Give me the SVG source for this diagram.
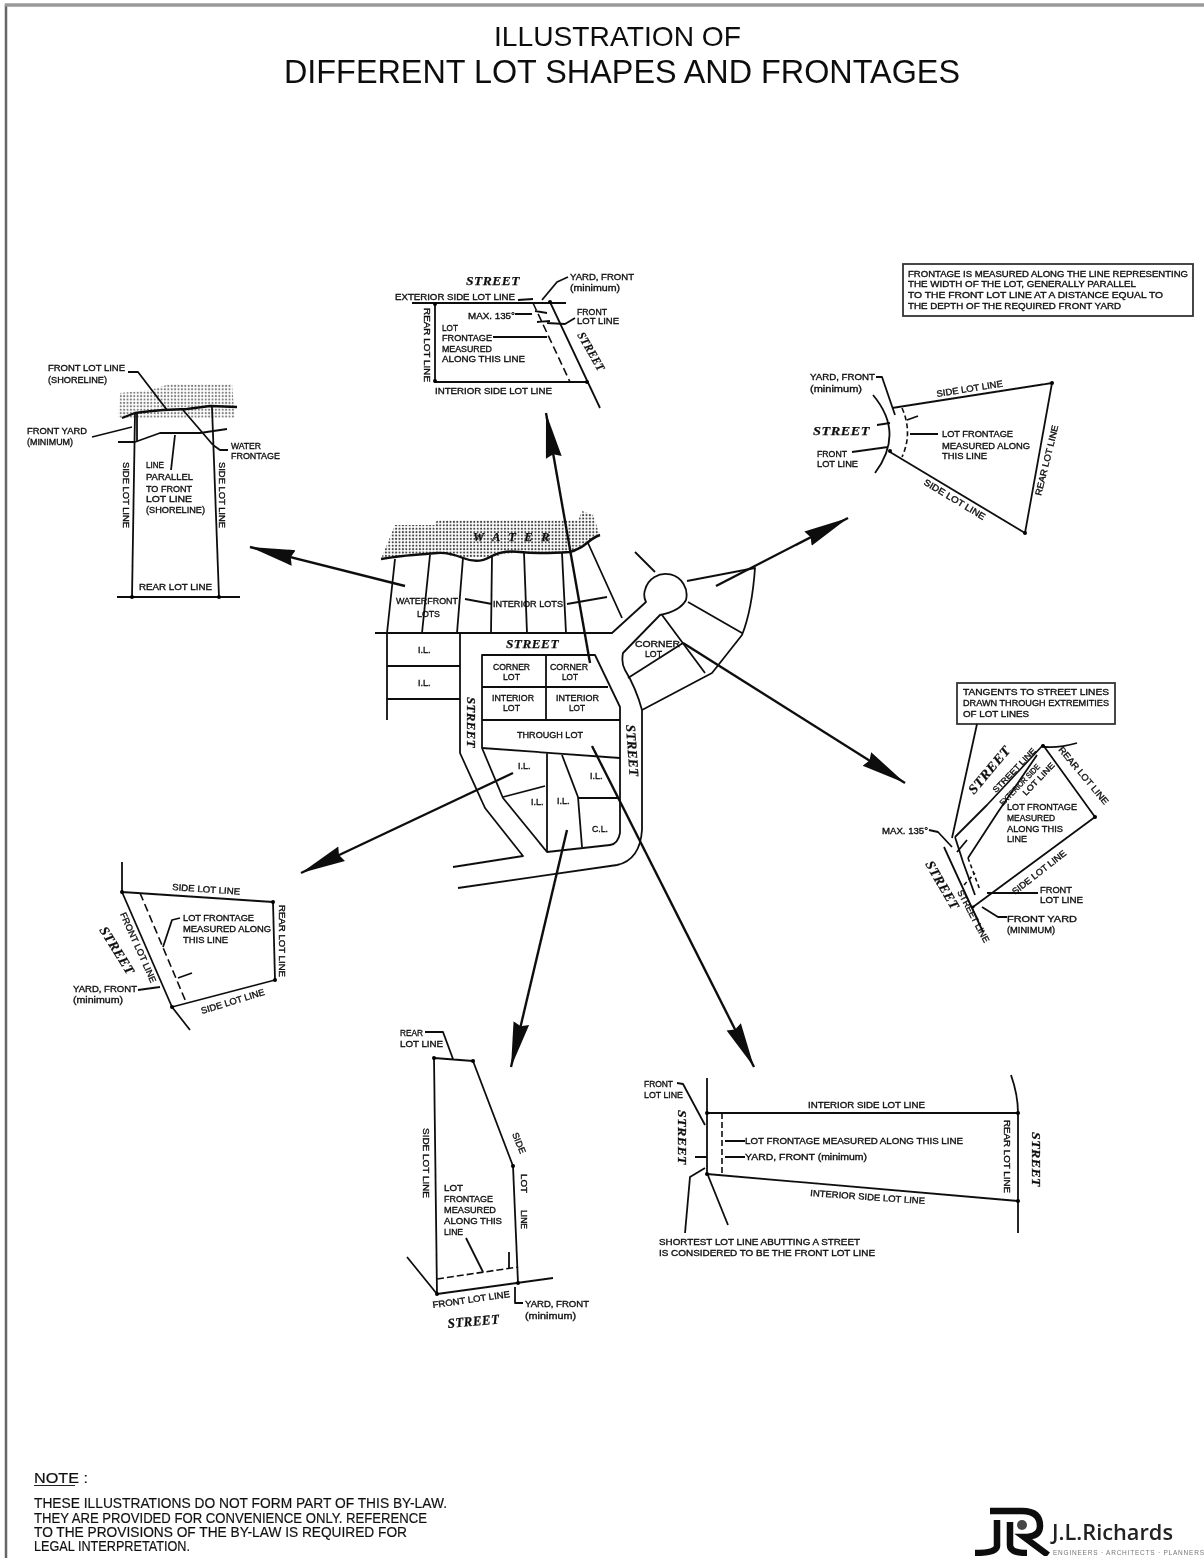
<svg xmlns="http://www.w3.org/2000/svg" width="1204" height="1558" viewBox="0 0 1204 1558">
<style>
text{font-family:"Liberation Sans",Arial,sans-serif;fill:#111}
.t{font-size:9px;stroke:#111;stroke-width:.35}
.s{font-family:"Liberation Serif","Times New Roman",serif;font-style:italic;font-weight:bold;font-size:13.5px;letter-spacing:.5px;stroke:#111;stroke-width:.25}
.h{font-size:28px}
.hb{font-size:33px}
.n{font-size:14px;stroke:#222;stroke-width:.2}
.l{fill:none;stroke:#111;stroke-width:1.8;stroke-linejoin:round}
.d{fill:none;stroke:#111;stroke-width:1.6;stroke-dasharray:8 4}
.b{fill:#fff;stroke:#333;stroke-width:1.8}
.a{fill:none;stroke:#111;stroke-width:2.4}
</style>
<defs>
<marker id="ah" markerUnits="userSpaceOnUse" markerWidth="46" markerHeight="18" viewBox="0 0 46 18" refX="45" refY="9" orient="auto"><path d="M0 1 L45 9 L0 17 L3 9Z" fill="#111"/></marker>
<pattern id="dots" width="3.4" height="3.4" patternUnits="userSpaceOnUse"><circle cx="1.7" cy="1.7" r="1.05" fill="#444"/></pattern>
<filter id="soft" x="0" y="0" width="1" height="1" filterUnits="objectBoundingBox"><feGaussianBlur stdDeviation="0.55"/></filter>
</defs>
<rect width="1204" height="1558" fill="#fff"/>
<path id="page-border" d="M6 1558V5" fill="none" stroke="#666" stroke-width="2.5"/>
<path id="page-border-top" d="M4.8 5H1204" fill="none" stroke="#999" stroke-width="3.5"/>
<g filter="url(#soft)">
<g id="title">
<text class="h" x="494" y="46" textLength="247" lengthAdjust="spacingAndGlyphs">ILLUSTRATION OF</text>
<text class="hb" x="284" y="83" textLength="676" lengthAdjust="spacingAndGlyphs">DIFFERENT LOT SHAPES AND FRONTAGES</text>
</g>

<g id="central-plan">
<path d="M381 559V559L395 525H435L437 520H510L578 520L582 511L593 515L600 535L587 543L570 552L520 552L490 557L463 558L437 553L413 555Z" fill="url(#dots)"/>
<path class="l" style="stroke-width:2.4" d="M381 559Q400 556 413 555T437 553T463 558T490 557T520 552T570 552Q580 549 587 543T600 535"/>
<path class="l" d="M395 559L387 633M430 555L422 633M463 558L457 633M492 557L491 633M524 553L527 633M562 553L566 633M588 543L622 618"/>
<path class="l" d="M375 633H612L646 602Q643 596 645 590A21 21 0 1 1 686 600Q680 611 660 615L623 653Q621 663 625 670Q636 688 642 710V830Q640 860 617 865L458 888"/>
<path class="l" d="M460 633V753L485 808L523 856L453 867"/>
<path class="l" d="M387 633V720M387 666H460M387 699H460"/>
<path class="l" d="M482 655H595L620 707V833Q618 844 610 845L547 852L503 798L482 748Z"/>
<path class="l" d="M546 655V720M482 687H608M482 720H620M482 748L620 758M547 753V852M503 797L545 786M562 755L578 797L582 847M578 798H618"/>
<path class="l" d="M635 552L655 572M687 581L755 568Q752 610 742 635L712 673L642 710M688 602L742 633M662 615L705 673M628 678L683 643"/>
<text class="s" x="473" y="541" textLength="77" style="font-size:12.5px">W A T E R</text>
<text class="t" x="396" y="604" textLength="62" lengthAdjust="spacingAndGlyphs">WATERFRONT</text>
<text class="t" x="417" y="617" textLength="23" lengthAdjust="spacingAndGlyphs">LOTS</text>
<text class="t" x="493" y="607" textLength="70" lengthAdjust="spacingAndGlyphs">INTERIOR LOTS</text>
<path class="l" d="M465 599L492 604M567 604L607 597"/>
<text class="s" x="506" y="648" textLength="53" lengthAdjust="spacingAndGlyphs">STREET</text>
<text class="t" x="418" y="653">I.L.</text>
<text class="t" x="418" y="686">I.L.</text>
<text class="s" x="467" y="697" transform="rotate(90 467 697)" textLength="51" lengthAdjust="spacingAndGlyphs">STREET</text>
<text class="s" x="626" y="725" transform="rotate(86 626 725)" textLength="52" lengthAdjust="spacingAndGlyphs">STREET</text>
<text class="t" x="493" y="670" textLength="37" lengthAdjust="spacingAndGlyphs">CORNER</text>
<text class="t" x="503" y="680" textLength="17" lengthAdjust="spacingAndGlyphs">LOT</text>
<text class="t" x="550" y="670" textLength="38" lengthAdjust="spacingAndGlyphs">CORNER</text>
<text class="t" x="562" y="680" textLength="16" lengthAdjust="spacingAndGlyphs">LOT</text>
<text class="t" x="492" y="701" textLength="42" lengthAdjust="spacingAndGlyphs">INTERIOR</text>
<text class="t" x="503" y="711" textLength="17" lengthAdjust="spacingAndGlyphs">LOT</text>
<text class="t" x="556" y="701" textLength="43" lengthAdjust="spacingAndGlyphs">INTERIOR</text>
<text class="t" x="569" y="711" textLength="16" lengthAdjust="spacingAndGlyphs">LOT</text>
<text class="t" x="517" y="738" textLength="66" lengthAdjust="spacingAndGlyphs">THROUGH LOT</text>
<text class="t" x="518" y="769">I.L.</text>
<text class="t" x="590" y="779">I.L.</text>
<text class="t" x="531" y="805">I.L.</text>
<text class="t" x="557" y="804">I.L.</text>
<text class="t" x="592" y="832" textLength="16" lengthAdjust="spacingAndGlyphs">C.L.</text>
<text class="t" x="635" y="647" textLength="45" lengthAdjust="spacingAndGlyphs">CORNER</text>
<text class="t" x="645" y="657" textLength="17" lengthAdjust="spacingAndGlyphs">LOT</text>
</g>

<g id="lot-top">
<text class="s" x="466" y="285" textLength="54" lengthAdjust="spacingAndGlyphs">STREET</text>
<text class="t" x="395" y="300" textLength="120" lengthAdjust="spacingAndGlyphs">EXTERIOR SIDE LOT LINE</text>
<path class="l" d="M412 303H566M435 303V382H587M550 302L600 408"/>
<path class="d" d="M533 303L570 382"/>
<path class="l" d="M515 314H532M493 337H547M518 300L533 299M535 311L547 313M542 300L557 282L568 277M547 323L565 324L575 318M537 322L550 321"/>
<circle cx="435" cy="304" r="2"/><circle cx="435" cy="381" r="2"/><circle cx="550" cy="302" r="2"/><circle cx="587" cy="382" r="2"/>
<text class="t" x="468" y="319" textLength="47" lengthAdjust="spacingAndGlyphs">MAX. 135°</text>
<text class="t" x="442" y="331" textLength="16" lengthAdjust="spacingAndGlyphs">LOT</text>
<text class="t" x="442" y="341" textLength="50" lengthAdjust="spacingAndGlyphs">FRONTAGE</text>
<text class="t" x="442" y="352" textLength="50" lengthAdjust="spacingAndGlyphs">MEASURED</text>
<text class="t" x="442" y="362" textLength="83" lengthAdjust="spacingAndGlyphs">ALONG THIS LINE</text>
<text class="t" x="424" y="308" transform="rotate(90 424 308)" textLength="74" lengthAdjust="spacingAndGlyphs">REAR LOT LINE</text>
<text class="t" x="435" y="394" textLength="117" lengthAdjust="spacingAndGlyphs">INTERIOR SIDE LOT LINE</text>
<text class="t" x="570" y="280" textLength="64" lengthAdjust="spacingAndGlyphs">YARD, FRONT</text>
<text class="t" x="570" y="291" textLength="50" lengthAdjust="spacingAndGlyphs">(minimum)</text>
<text class="t" x="577" y="315" textLength="30" lengthAdjust="spacingAndGlyphs">FRONT</text>
<text class="t" x="577" y="324" textLength="42" lengthAdjust="spacingAndGlyphs">LOT LINE</text>
<text class="s" x="577" y="335" transform="rotate(60 577 335)" textLength="43" lengthAdjust="spacingAndGlyphs" style="font-size:12px">STREET</text>
</g>

<g id="lot-shoreline">
<path d="M118 418L120 393L150 390L170 384H232L235 418Z" fill="url(#dots)" opacity=".7"/>
<path class="l" style="stroke-width:2.4" d="M122 418L135 413Q150 411 163 410L187 409L210 406L237 407"/>
<path class="l" d="M135 413L132 597M212 407L219 597M117 597H240M137 413V441M118 442H135L160 433H200L227 429M128 372H138L167 410M183 410L213 445L220 450H228M175 435L171 470M92 437L132 427"/>
<circle cx="132" cy="597" r="2"/><circle cx="219" cy="597" r="2"/>
<text class="t" x="48" y="371" textLength="77" lengthAdjust="spacingAndGlyphs">FRONT LOT LINE</text>
<text class="t" x="48" y="383" textLength="59" lengthAdjust="spacingAndGlyphs">(SHORELINE)</text>
<text class="t" x="27" y="434" textLength="60" lengthAdjust="spacingAndGlyphs">FRONT YARD</text>
<text class="t" x="27" y="445" textLength="46" lengthAdjust="spacingAndGlyphs">(MINIMUM)</text>
<text class="t" x="231" y="449" textLength="30" lengthAdjust="spacingAndGlyphs">WATER</text>
<text class="t" x="231" y="459" textLength="49" lengthAdjust="spacingAndGlyphs">FRONTAGE</text>
<text class="t" x="146" y="468" textLength="18" lengthAdjust="spacingAndGlyphs">LINE</text>
<text class="t" x="146" y="480" textLength="47" lengthAdjust="spacingAndGlyphs">PARALLEL</text>
<text class="t" x="146" y="492" textLength="46" lengthAdjust="spacingAndGlyphs">TO FRONT</text>
<text class="t" x="146" y="502" textLength="46" lengthAdjust="spacingAndGlyphs">LOT LINE</text>
<text class="t" x="146" y="513" textLength="59" lengthAdjust="spacingAndGlyphs">(SHORELINE)</text>
<text class="t" x="123" y="462" transform="rotate(90 123 462)" textLength="66" lengthAdjust="spacingAndGlyphs">SIDE LOT LINE</text>
<text class="t" x="219" y="462" transform="rotate(90 219 462)" textLength="66" lengthAdjust="spacingAndGlyphs">SIDE LOT LINE</text>
<text class="t" x="139" y="590" textLength="73" lengthAdjust="spacingAndGlyphs">REAR LOT LINE</text>
</g>

<g id="note-frontage">
<rect class="b" x="903" y="264" width="290" height="52"/>
<text class="t" x="908" y="277" textLength="280" lengthAdjust="spacingAndGlyphs">FRONTAGE IS MEASURED ALONG THE LINE REPRESENTING</text>
<text class="t" x="908" y="287" textLength="228" lengthAdjust="spacingAndGlyphs">THE WIDTH OF THE LOT, GENERALLY PARALLEL</text>
<text class="t" x="908" y="298" textLength="255" lengthAdjust="spacingAndGlyphs">TO THE FRONT LOT LINE AT A DISTANCE EQUAL TO</text>
<text class="t" x="908" y="309" textLength="213" lengthAdjust="spacingAndGlyphs">THE DEPTH OF THE REQUIRED FRONT YARD</text>
</g>

<g id="lot-wedge">
<path class="l" d="M873 395Q905 433 875 473M892 408L1052 383L1025 533L890 452M876 377H882L895 415M907 420L918 416M910 434H938M877 425L890 423M852 452L888 447"/>
<path class="d" style="stroke-dasharray:5 3" d="M902 408Q913 433 902 457"/>
<circle cx="1052" cy="383" r="2"/><circle cx="1025" cy="533" r="2"/><circle cx="890" cy="451" r="2"/>
<text class="t" x="810" y="380" textLength="65" lengthAdjust="spacingAndGlyphs">YARD, FRONT</text>
<text class="t" x="810" y="392" textLength="52" lengthAdjust="spacingAndGlyphs">(minimum)</text>
<text class="t" x="942" y="437" textLength="71" lengthAdjust="spacingAndGlyphs">LOT FRONTAGE</text>
<text class="t" x="942" y="449" textLength="88" lengthAdjust="spacingAndGlyphs">MEASURED ALONG</text>
<text class="t" x="942" y="459" textLength="45" lengthAdjust="spacingAndGlyphs">THIS LINE</text>
<text class="t" x="937" y="397" transform="rotate(-9 937 397)" textLength="67" lengthAdjust="spacingAndGlyphs">SIDE LOT LINE</text>
<text class="s" x="813" y="435" textLength="57" lengthAdjust="spacingAndGlyphs">STREET</text>
<text class="t" x="817" y="457" textLength="30" lengthAdjust="spacingAndGlyphs">FRONT</text>
<text class="t" x="817" y="467" textLength="41" lengthAdjust="spacingAndGlyphs">LOT LINE</text>
<text class="t" x="923" y="484" transform="rotate(31 923 484)" textLength="70" lengthAdjust="spacingAndGlyphs">SIDE LOT LINE</text>
<text class="t" x="1041" y="496" transform="rotate(-76 1041 496)" textLength="72" lengthAdjust="spacingAndGlyphs">REAR LOT LINE</text>
</g>

<g id="lot-tangents">
<rect class="b" x="957" y="683" width="158" height="41"/>
<text class="t" x="963" y="695" textLength="146" lengthAdjust="spacingAndGlyphs">TANGENTS TO STREET LINES</text>
<text class="t" x="963" y="706" textLength="146" lengthAdjust="spacingAndGlyphs">DRAWN THROUGH EXTREMITIES</text>
<text class="t" x="963" y="717" textLength="66" lengthAdjust="spacingAndGlyphs">OF LOT LINES</text>
<path class="l" d="M977 724L952 838M929 830L938 832L952 847M944 847L983 932M955 837L987 805L1043 745L1095 817L973 907M1045 747Q1060 748 1077 743M1037 755L998 812L968 858M955 837L963 862L975 895M987 893H1038M982 907L998 917H1007M957 852L967 840"/>
<path class="d" style="stroke-dasharray:4 3" d="M968 858L980 890M964 885L975 873"/>
<circle cx="1043" cy="746" r="2"/><circle cx="1095" cy="817" r="2"/><circle cx="973" cy="907" r="1.5"/>
<text class="t" x="882" y="834" textLength="46" lengthAdjust="spacingAndGlyphs">MAX. 135°</text>
<text class="s" x="974" y="795" transform="rotate(-50 974 795)" textLength="58" lengthAdjust="spacingAndGlyphs">STREET</text>
<text class="t" x="996" y="793" transform="rotate(-46 996 793)" textLength="58" lengthAdjust="spacingAndGlyphs" style="font-size:8px">STREET LINE</text>
<text class="t" x="1003" y="806" transform="rotate(-46 1003 806)" textLength="54" lengthAdjust="spacingAndGlyphs" style="font-size:8px">EXTERIOR SIDE</text>
<text class="t" x="1026" y="796" transform="rotate(-46 1026 796)" textLength="42" lengthAdjust="spacingAndGlyphs" style="font-size:8px">LOT LINE</text>
<text class="t" x="1058" y="750" transform="rotate(50 1058 750)" textLength="72" lengthAdjust="spacingAndGlyphs">REAR LOT LINE</text>
<text class="t" x="1007" y="810" textLength="70" lengthAdjust="spacingAndGlyphs">LOT FRONTAGE</text>
<text class="t" x="1007" y="821" textLength="48" lengthAdjust="spacingAndGlyphs">MEASURED</text>
<text class="t" x="1007" y="832" textLength="56" lengthAdjust="spacingAndGlyphs">ALONG THIS</text>
<text class="t" x="1007" y="842" textLength="20" lengthAdjust="spacingAndGlyphs">LINE</text>
<text class="t" x="1015" y="895" transform="rotate(-38 1015 895)" textLength="66" lengthAdjust="spacingAndGlyphs">SIDE LOT LINE</text>
<text class="t" x="1040" y="893" textLength="32" lengthAdjust="spacingAndGlyphs">FRONT</text>
<text class="t" x="1040" y="903" textLength="43" lengthAdjust="spacingAndGlyphs">LOT LINE</text>
<text class="t" x="1007" y="922" textLength="70" lengthAdjust="spacingAndGlyphs">FRONT YARD</text>
<text class="t" x="1007" y="933" textLength="48" lengthAdjust="spacingAndGlyphs">(MINIMUM)</text>
<text class="s" x="925" y="864" transform="rotate(60 925 864)" textLength="54" lengthAdjust="spacingAndGlyphs">STREET</text>
<text class="t" x="957" y="892" transform="rotate(62 957 892)" textLength="58" lengthAdjust="spacingAndGlyphs">STREET LINE</text>
</g>

<g id="lot-left-lower">
<path class="l" d="M122 862V892L273 902L275 980L172 1007M122 892L172 1007L190 1030M180 918L172 920L163 947M178 978L192 973M138 990L160 987"/>
<path class="d" d="M140 893L186 1002"/>
<circle cx="122" cy="892" r="2"/><circle cx="273" cy="902" r="2"/><circle cx="275" cy="980" r="2"/><circle cx="172" cy="1007" r="2"/>
<text class="t" x="172" y="890" transform="rotate(4 172 890)" textLength="68" lengthAdjust="spacingAndGlyphs">SIDE LOT LINE</text>
<text class="t" x="183" y="921" textLength="71" lengthAdjust="spacingAndGlyphs">LOT FRONTAGE</text>
<text class="t" x="183" y="932" textLength="88" lengthAdjust="spacingAndGlyphs">MEASURED ALONG</text>
<text class="t" x="183" y="943" textLength="45" lengthAdjust="spacingAndGlyphs">THIS LINE</text>
<text class="t" x="120" y="914" transform="rotate(66 120 914)" textLength="76" lengthAdjust="spacingAndGlyphs">FRONT LOT LINE</text>
<text class="s" x="99" y="930" transform="rotate(58 99 930)" textLength="54" lengthAdjust="spacingAndGlyphs">STREET</text>
<text class="t" x="279" y="905" transform="rotate(90 279 905)" textLength="72" lengthAdjust="spacingAndGlyphs">REAR LOT LINE</text>
<text class="t" x="202" y="1014" transform="rotate(-17 202 1014)" textLength="66" lengthAdjust="spacingAndGlyphs">SIDE LOT LINE</text>
<text class="t" x="73" y="992" textLength="64" lengthAdjust="spacingAndGlyphs">YARD, FRONT</text>
<text class="t" x="73" y="1003" textLength="50" lengthAdjust="spacingAndGlyphs">(minimum)</text>
</g>

<g id="lot-bottom">
<path class="l" d="M434 1058L473 1061L513 1166L518 1283M434 1058L437 1294L553 1278M407 1257L437 1294M425 1032H443L453 1059M509 1252V1268M466 1238L483 1272M515 1287V1303H523"/>
<path class="d" style="stroke-dasharray:7 3" d="M437 1279L518 1267"/>
<circle cx="434" cy="1058" r="2"/><circle cx="473" cy="1061" r="2"/><circle cx="513" cy="1166" r="2"/><circle cx="518" cy="1283" r="2"/><circle cx="437" cy="1294" r="2"/>
<text class="t" x="400" y="1036" textLength="23" lengthAdjust="spacingAndGlyphs">REAR</text>
<text class="t" x="400" y="1047" textLength="43" lengthAdjust="spacingAndGlyphs">LOT LINE</text>
<text class="t" x="423" y="1128" transform="rotate(90 423 1128)" textLength="70" lengthAdjust="spacingAndGlyphs">SIDE LOT LINE</text>
<text class="t" x="512" y="1134" transform="rotate(68 512 1134)" textLength="22" lengthAdjust="spacingAndGlyphs">SIDE</text>
<text class="t" x="521" y="1174" transform="rotate(90 521 1174)" textLength="19" lengthAdjust="spacingAndGlyphs">LOT</text>
<text class="t" x="521" y="1210" transform="rotate(90 521 1210)" textLength="19" lengthAdjust="spacingAndGlyphs">LINE</text>
<text class="t" x="444" y="1191" textLength="19" lengthAdjust="spacingAndGlyphs">LOT</text>
<text class="t" x="444" y="1202" textLength="49" lengthAdjust="spacingAndGlyphs">FRONTAGE</text>
<text class="t" x="444" y="1213" textLength="52" lengthAdjust="spacingAndGlyphs">MEASURED</text>
<text class="t" x="444" y="1224" textLength="58" lengthAdjust="spacingAndGlyphs">ALONG THIS</text>
<text class="t" x="444" y="1235" textLength="19" lengthAdjust="spacingAndGlyphs">LINE</text>
<text class="t" x="433" y="1308" transform="rotate(-8 433 1308)" textLength="78" lengthAdjust="spacingAndGlyphs">FRONT LOT LINE</text>
<text class="t" x="525" y="1307" textLength="64" lengthAdjust="spacingAndGlyphs">YARD, FRONT</text>
<text class="t" x="525" y="1319" textLength="51" lengthAdjust="spacingAndGlyphs">(minimum)</text>
<text class="s" x="448" y="1328" transform="rotate(-5 448 1328)" textLength="52" lengthAdjust="spacingAndGlyphs">STREET</text>
</g>

<g id="lot-through">
<path class="l" d="M707 1078V1173L728 1225M707 1113H1018M707 1174L1018 1201M1011 1075Q1018 1095 1018 1113V1233M677 1083L683 1084L705 1125M725 1141H745M725 1157H745M695 1157H707M705 1168L690 1177L685 1233"/>
<path class="d" style="stroke-dasharray:6 3" d="M722 1113V1175"/>
<circle cx="707" cy="1113" r="2"/><circle cx="707" cy="1174" r="2"/><circle cx="1018" cy="1113" r="2"/><circle cx="1018" cy="1201" r="2"/>
<text class="t" x="644" y="1087" textLength="29" lengthAdjust="spacingAndGlyphs">FRONT</text>
<text class="t" x="644" y="1098" textLength="39" lengthAdjust="spacingAndGlyphs">LOT LINE</text>
<text class="s" x="678" y="1110" transform="rotate(90 678 1110)" textLength="55" lengthAdjust="spacingAndGlyphs">STREET</text>
<text class="s" x="1032" y="1132" transform="rotate(90 1032 1132)" textLength="55" lengthAdjust="spacingAndGlyphs">STREET</text>
<text class="t" x="808" y="1108" textLength="117" lengthAdjust="spacingAndGlyphs">INTERIOR SIDE LOT LINE</text>
<text class="t" x="745" y="1144" textLength="218" lengthAdjust="spacingAndGlyphs">LOT FRONTAGE MEASURED ALONG THIS LINE</text>
<text class="t" x="745" y="1160" textLength="122" lengthAdjust="spacingAndGlyphs">YARD, FRONT (minimum)</text>
<text class="t" x="810" y="1196" transform="rotate(4 810 1196)" textLength="115" lengthAdjust="spacingAndGlyphs">INTERIOR SIDE LOT LINE</text>
<text class="t" x="1004" y="1120" transform="rotate(90 1004 1120)" textLength="73" lengthAdjust="spacingAndGlyphs">REAR LOT LINE</text>
<text class="t" x="659" y="1245" textLength="201" lengthAdjust="spacingAndGlyphs">SHORTEST LOT LINE ABUTTING A STREET</text>
<text class="t" x="659" y="1256" textLength="216" lengthAdjust="spacingAndGlyphs">IS CONSIDERED TO BE THE FRONT LOT LINE</text>
</g>

<g id="connectors">
<path class="a" marker-end="url(#ah)" d="M590 663L546 413"/>
<path class="a" marker-end="url(#ah)" d="M405 586L250 547"/>
<path class="a" marker-end="url(#ah)" d="M716 586L848 518"/>
<path class="a" marker-end="url(#ah)" d="M683 643L905 783"/>
<path class="a" marker-end="url(#ah)" d="M513 773L301 873"/>
<path class="a" marker-end="url(#ah)" d="M567 830L511 1067"/>
<path class="a" marker-end="url(#ah)" d="M592 746L754 1067"/>
</g>

<g id="note">
<text class="n" x="34" y="1483" textLength="54" lengthAdjust="spacingAndGlyphs">NOTE :</text>
<path d="M34 1485.5H75" stroke="#222" stroke-width="1"/>
<text class="n" x="34" y="1508" textLength="413" lengthAdjust="spacingAndGlyphs">THESE ILLUSTRATIONS DO NOT FORM PART OF THIS BY-LAW.</text>
<text class="n" x="34" y="1523" textLength="393" lengthAdjust="spacingAndGlyphs">THEY ARE PROVIDED FOR CONVENIENCE ONLY. REFERENCE</text>
<text class="n" x="34" y="1537" textLength="373" lengthAdjust="spacingAndGlyphs">TO THE PROVISIONS OF THE BY-LAW IS REQUIRED FOR</text>
<text class="n" x="34" y="1551" textLength="156" lengthAdjust="spacingAndGlyphs">LEGAL INTERPRETATION.</text>
</g>

<g id="logo">
<path d="M990 1511H1022Q1040 1511 1040 1526Q1040 1537 1024 1537L1048 1555" fill="none" stroke="#111" stroke-width="6.5"/>
<path d="M997 1520V1546Q997 1553 975 1553" fill="none" stroke="#111" stroke-width="6.5"/>
<path d="M1010 1522V1545Q1010 1553 1027 1553" fill="none" stroke="#111" stroke-width="6.5"/>
<circle cx="1022" cy="1525" r="5" fill="#444"/>
<text x="1052" y="1540" style="font-family:'Open Sans','Noto Sans',sans-serif;font-size:22px;font-weight:600;fill:#222" textLength="121" lengthAdjust="spacingAndGlyphs">J.L.Richards</text>
<text x="1053" y="1555" style="font-size:6.5px;fill:#777" textLength="151" lengthAdjust="spacing">ENGINEERS · ARCHITECTS · PLANNERS</text>
</g>
</g>
</svg>
